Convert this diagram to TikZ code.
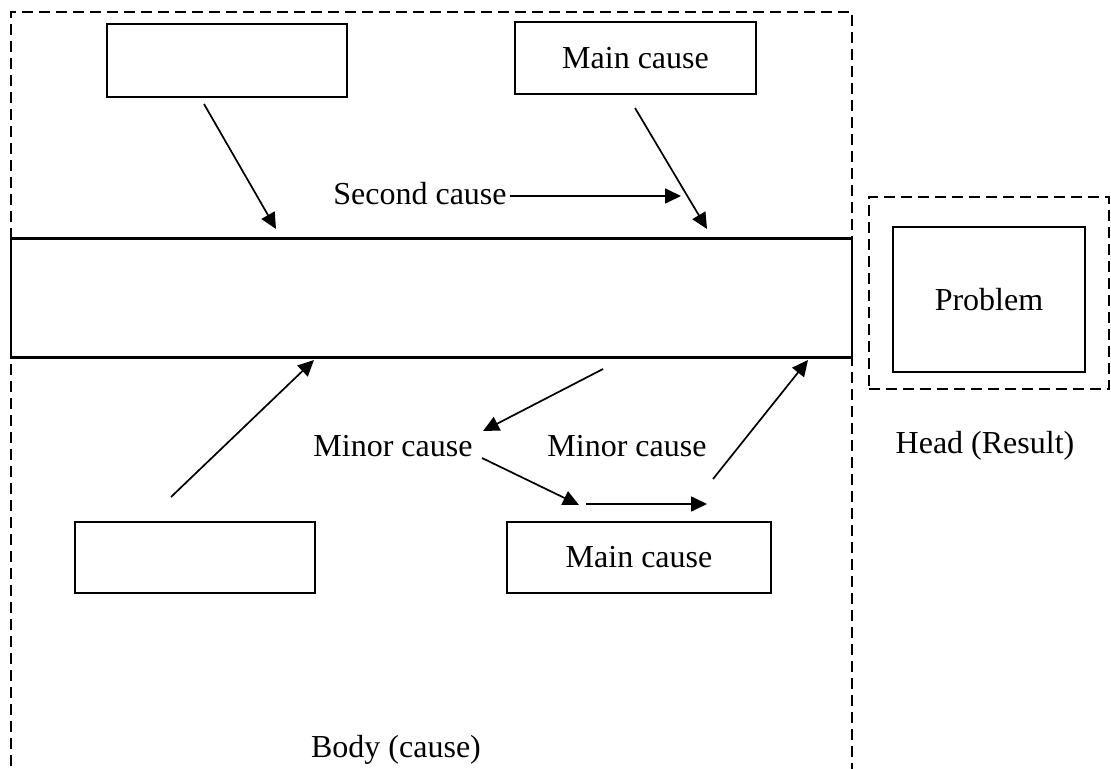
\documentclass[tikz,border=0pt]{standalone}
\usepackage{fontspec}
\setmainfont{Liberation Serif}
\usetikzlibrary{arrows.meta}
\begin{document}
\begin{tikzpicture}[x=0.5pt,y=-0.5pt,
  every node/.style={font=\fontsize{16}{19}\selectfont, inner sep=0pt},
  box/.style={draw, line width=1.1pt, rectangle},
  zone/.style={draw, line width=0.9pt, dash pattern=on 5.5pt off 3pt},
  link/.style={line width=0.85pt, -{Triangle[length=8pt,width=7.5pt]}}]
\useasboundingbox (0,0) rectangle (1111,769);
\clip (0,0) rectangle (1111,769);

% body and head zones
\draw[zone] (11,800) -- (11,12) -- (852,12) -- (852,800);
\node[zone, minimum width=120pt, minimum height=96pt] (head) at (989,293) {};

% boxes
\node[box, minimum width=120pt, minimum height=36.5pt] (tl) at (227,60.5) {};
\node[box, minimum width=120.5pt, minimum height=36pt] (tr) at (635.5,58) {Main cause};
\node[box, minimum width=420.5pt, minimum height=59.5pt] (spine) at (431.5,298) {};
\node[box, minimum width=120pt, minimum height=35.5pt] (bl) at (195,557.5) {};
\node[box, minimum width=132pt, minimum height=35.5pt] (br) at (639,557.5) {Main cause};
\node[box, minimum width=96pt, minimum height=72.5pt] (prob) at (989,299.5) {Problem};

% labels
\node (second) at (420,194) {Second cause};
\node (minorl) at (393,446) {Minor cause};
\node (minorr) at (627,446) {Minor cause};
\node (headlbl) at (985,446) {Head (Result)};
\node (bodylbl) at (396,750) {Body (cause)};

% free arrow ends
\coordinate (a1s) at (204,104);
\coordinate (a1e) at (276,229);
\coordinate (a2s) at (635,108);
\coordinate (a2e) at (707,229);
\coordinate (a3e) at (681,196);
\coordinate (a4s) at (171,497);
\coordinate (a4e) at (314,360);
\coordinate (a5s) at (603,369);
\coordinate (a5e) at (483,431);
\coordinate (a6s) at (482,458);
\coordinate (a6e) at (579,505);
\coordinate (a7s) at (586,504);
\coordinate (a7e) at (707,504);
\coordinate (a8s) at (713,479);
\coordinate (a8e) at (808,360);

% connectors
\draw[link] (second.east |- a3e) ++(3,0) -- (a3e);
\draw[link] (a1s) -- (a1e);
\draw[link] (a2s) -- (a2e);
\draw[link] (a4s) -- (a4e);
\draw[link] (a5s) -- (a5e);
\draw[link] (a6s) -- (a6e);
\draw[link] (a7s) -- (a7e);
\draw[link] (a8s) -- (a8e);
\end{tikzpicture}
\end{document}
